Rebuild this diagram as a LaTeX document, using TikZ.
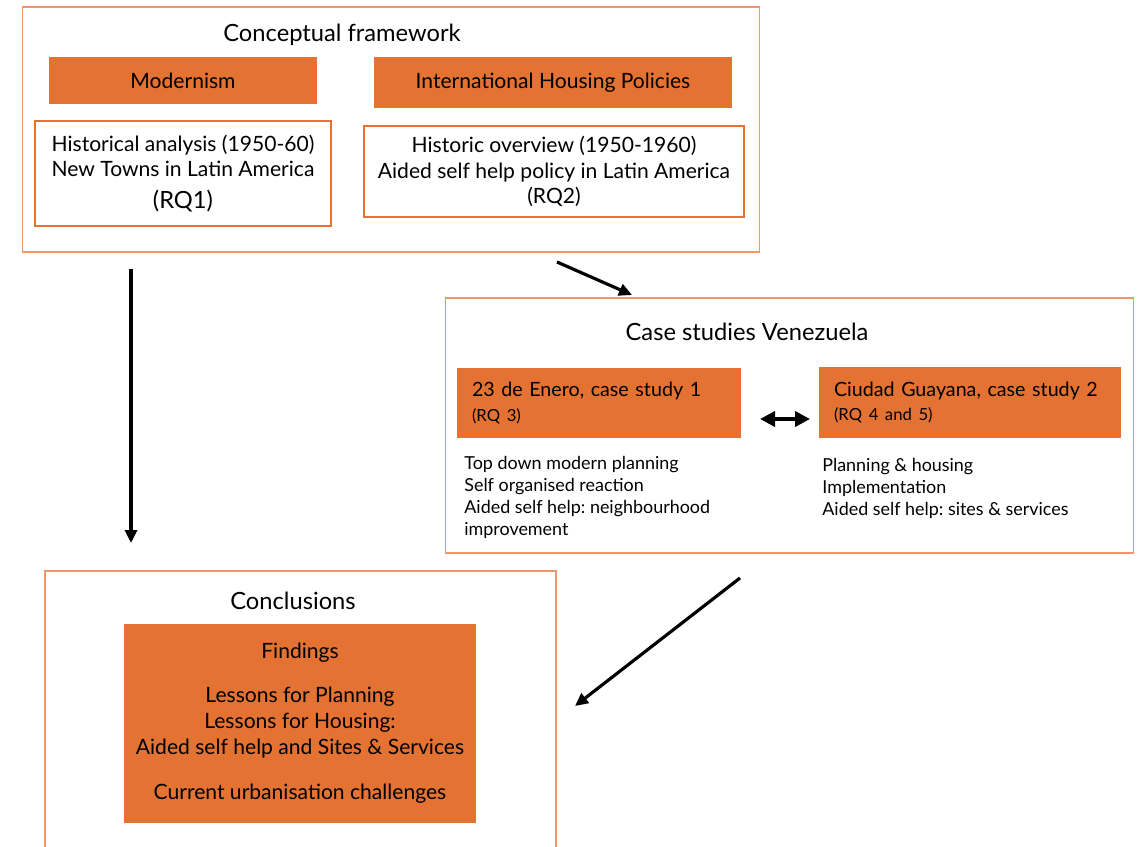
\documentclass[tikz,border=0pt]{standalone}
\usepackage{fontspec}
\setmainfont{Lato}
\usepackage{xcolor}
\usetikzlibrary{arrows.meta, positioning}

\definecolor{boxorange}{RGB}{228,114,51}
\definecolor{lineorange}{RGB}{240,150,105}

\newcommand{\rqsmall}[1]{{\fontsize{9.5}{11}\selectfont #1}}

\tikzset{
  frame/.style={rectangle, draw=lineorange, line width=0.6pt, inner sep=0pt},
  whitebox/.style={rectangle, draw=boxorange, line width=0.9pt, align=center,
    font=\fontsize{12}{14.4}\selectfont},
  fillbox/.style={rectangle, fill=boxorange, inner sep=0pt, align=center,
    font=\fontsize{12}{14.8}\selectfont},
  casebox/.style={rectangle, fill=boxorange, inner xsep=0.3cm, align=left,
    font=\frenchspacing\fontsize{11.2}{13.8}\selectfont},
  heading/.style={font=\fontsize{13.5}{16}\selectfont},
  listtext/.style={align=left, inner sep=0pt, font=\frenchspacing\fontsize{10.2}{12.5}\selectfont},
  flow/.style={-{Triangle[length=0.26cm, width=0.24cm]}, line width=1.8pt},
  twoway/.style={{Triangle[length=0.3cm, width=0.3cm]}-{Triangle[length=0.3cm, width=0.3cm]}, line width=2.2pt},
}

\begin{document}
\begin{tikzpicture}[x=0.02cm, y=-0.02cm]
  \useasboundingbox (0,0) rectangle (1138,847);

  % conceptual framework
  \node[frame, minimum width=14.76cm, minimum height=4.9cm] (CF) at (391,129.5) {};
  \node[heading] (CFtitle) at (342,35) {Conceptual framework};
  \node[fillbox, minimum width=5.36cm, minimum height=0.94cm] (Mod) at (183,80.5) {Modernism};
  \node[fillbox, minimum width=7.16cm, minimum height=1.02cm] (IHP) at (553,82.5) {International Housing Policies};
  \node[whitebox, minimum width=5.92cm, minimum height=2.1cm] (RQa) at (183,173.5)
    {Historical analysis (1950-60)\\New Towns in Latin America\\[4pt]{\fontsize{13.5}{14}\selectfont(RQ1)}};
  \node[whitebox, minimum width=7.6cm, minimum height=1.82cm] (RQb) at (554,171.5)
    {Historic overview (1950-1960)\\Aided self help policy in Latin America\\(RQ2)};

  % case studies
  \node[frame, minimum width=13.78cm, minimum height=5.1cm] (CS) at (789.5,425.5) {};
  \node[heading] (CStitle) at (747,332) {Case studies Venezuela};
  \node[casebox, text width=5.08cm, minimum height=1.4cm] (Enero) at (599,403)
    {23 de Enero, case study 1\\\rqsmall{(RQ 3)}};
  \node[casebox, text width=5.44cm, minimum height=1.42cm] (Guayana) at (970,402.5)
    {Ciudad Guayana, case study 2\\\rqsmall{(RQ 4 and 5)}};
  \node[listtext, anchor=north west] (EneroList) at (464,456)
    {Top down modern planning\\Self organised reaction\\Aided self help: neighbourhood\\improvement};
  \node[listtext, anchor=north west] (GuayanaList) at (822,458)
    {Planning \& housing\\Implementation\\Aided self help: sites \& services};

  % conclusions
  \draw[lineorange, line width=0.6pt] (45,847) |- (556,571) -- (556,847);
  \node[heading] (COtitle) at (293,601) {Conclusions};
  \node[fillbox, minimum width=7.04cm, minimum height=3.98cm] (Find) at (300,723.5)
    {Findings\\[10pt]Lessons for Planning\\Lessons for Housing:\\Aided self help and Sites \& Services\\[11pt]Current urbanisation challenges};

  % arrows
  \coordinate (a1) at (131,269);
  \coordinate (b1) at (131,543);
  \coordinate (a2) at (557,262);
  \coordinate (b2) at (632,295);
  \coordinate (a3) at (740,578);
  \coordinate (b3) at (575,706);
  \coordinate (a4) at (760,419);
  \coordinate (b4) at (810,419);
  \draw[flow] (a1) -- (b1);
  \draw[flow] (a2) -- (b2);
  \draw[flow] (a3) -- (b3);
  \draw[twoway] (a4) -- (b4);
\end{tikzpicture}
\end{document}
